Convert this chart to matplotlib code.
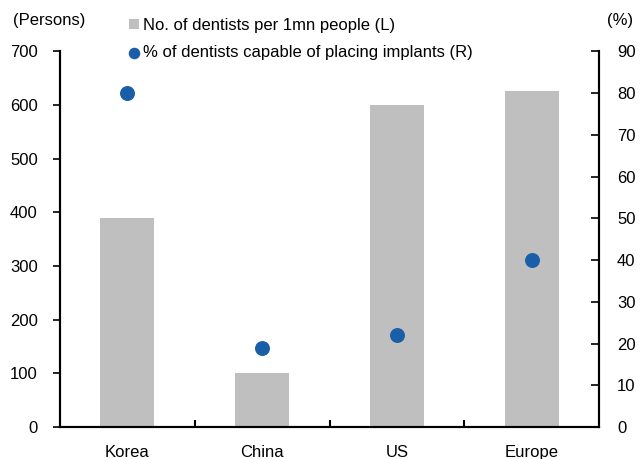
import numpy as np
import matplotlib
matplotlib.use('Agg')
import matplotlib.pyplot as plt
from matplotlib.ticker import FixedLocator

plt.rcParams['font.family'] = ['Liberation Sans', 'DejaVu Sans']
plt.rcParams['font.size'] = 12

regions = ['Korea', 'China', 'US', 'Europe']
dentists_per_mn = [390, 100, 600, 627]       # left axis, persons
implant_share = [80, 19, 22, 40]             # right axis, %

bar_color = '#bfbfbf'
dot_color = '#1b5ea8'

fig = plt.figure(figsize=(6.4, 4.59), dpi=100)
ax = fig.add_axes([60 / 640, 1 - 427 / 459, 539 / 640, 375.5 / 459])
ax2 = ax.twinx()

x = np.arange(len(regions))
bars = ax.bar(x, dentists_per_mn, width=0.4, color=bar_color,
              label='No. of dentists per 1mn people (L)')
dots = ax2.scatter(x, implant_share, s=95, color=dot_color, zorder=3,
                   label='% of dentists capable of placing implants (R)')

ax.set_xlim(-0.5, 3.5)
ax.set_ylim(0, 700)
ax.set_yticks(np.arange(0, 701, 100))
ax2.set_ylim(0, 90)
ax2.set_yticks(np.arange(0, 91, 10))

ax.set_xticks(x)
ax.set_xticklabels(regions)
ax.xaxis.set_minor_locator(FixedLocator([0.5, 1.5, 2.5]))
ax.tick_params(axis='x', which='major', length=0, pad=13)
ax.tick_params(axis='x', which='minor', direction='in', length=5, width=1.5)
ax.tick_params(axis='y', direction='out', length=5, width=1.2, pad=11)
ax2.tick_params(axis='y', direction='in', length=6, width=1.2, pad=13)

for a in (ax, ax2):
    a.spines['top'].set_visible(False)
    for side in ('left', 'right', 'bottom'):
        a.spines[side].set_linewidth(1.5)

fig.text(13 / 640, 1 - 21 / 459, '(Persons)', ha='left', va='center')
fig.text(633 / 640, 1 - 21 / 459, '(%)', ha='right', va='center')

fig.legend(handles=[bars, dots], loc='center left',
           bbox_to_anchor=(129 / 640, 1 - 39 / 459), frameon=False,
           handlelength=0.6, handleheight=0.6, handletextpad=0.25,
           labelspacing=0.72, borderpad=0, borderaxespad=0,
           markerscale=0.75)

fig.savefig('out.png', dpi=100)
